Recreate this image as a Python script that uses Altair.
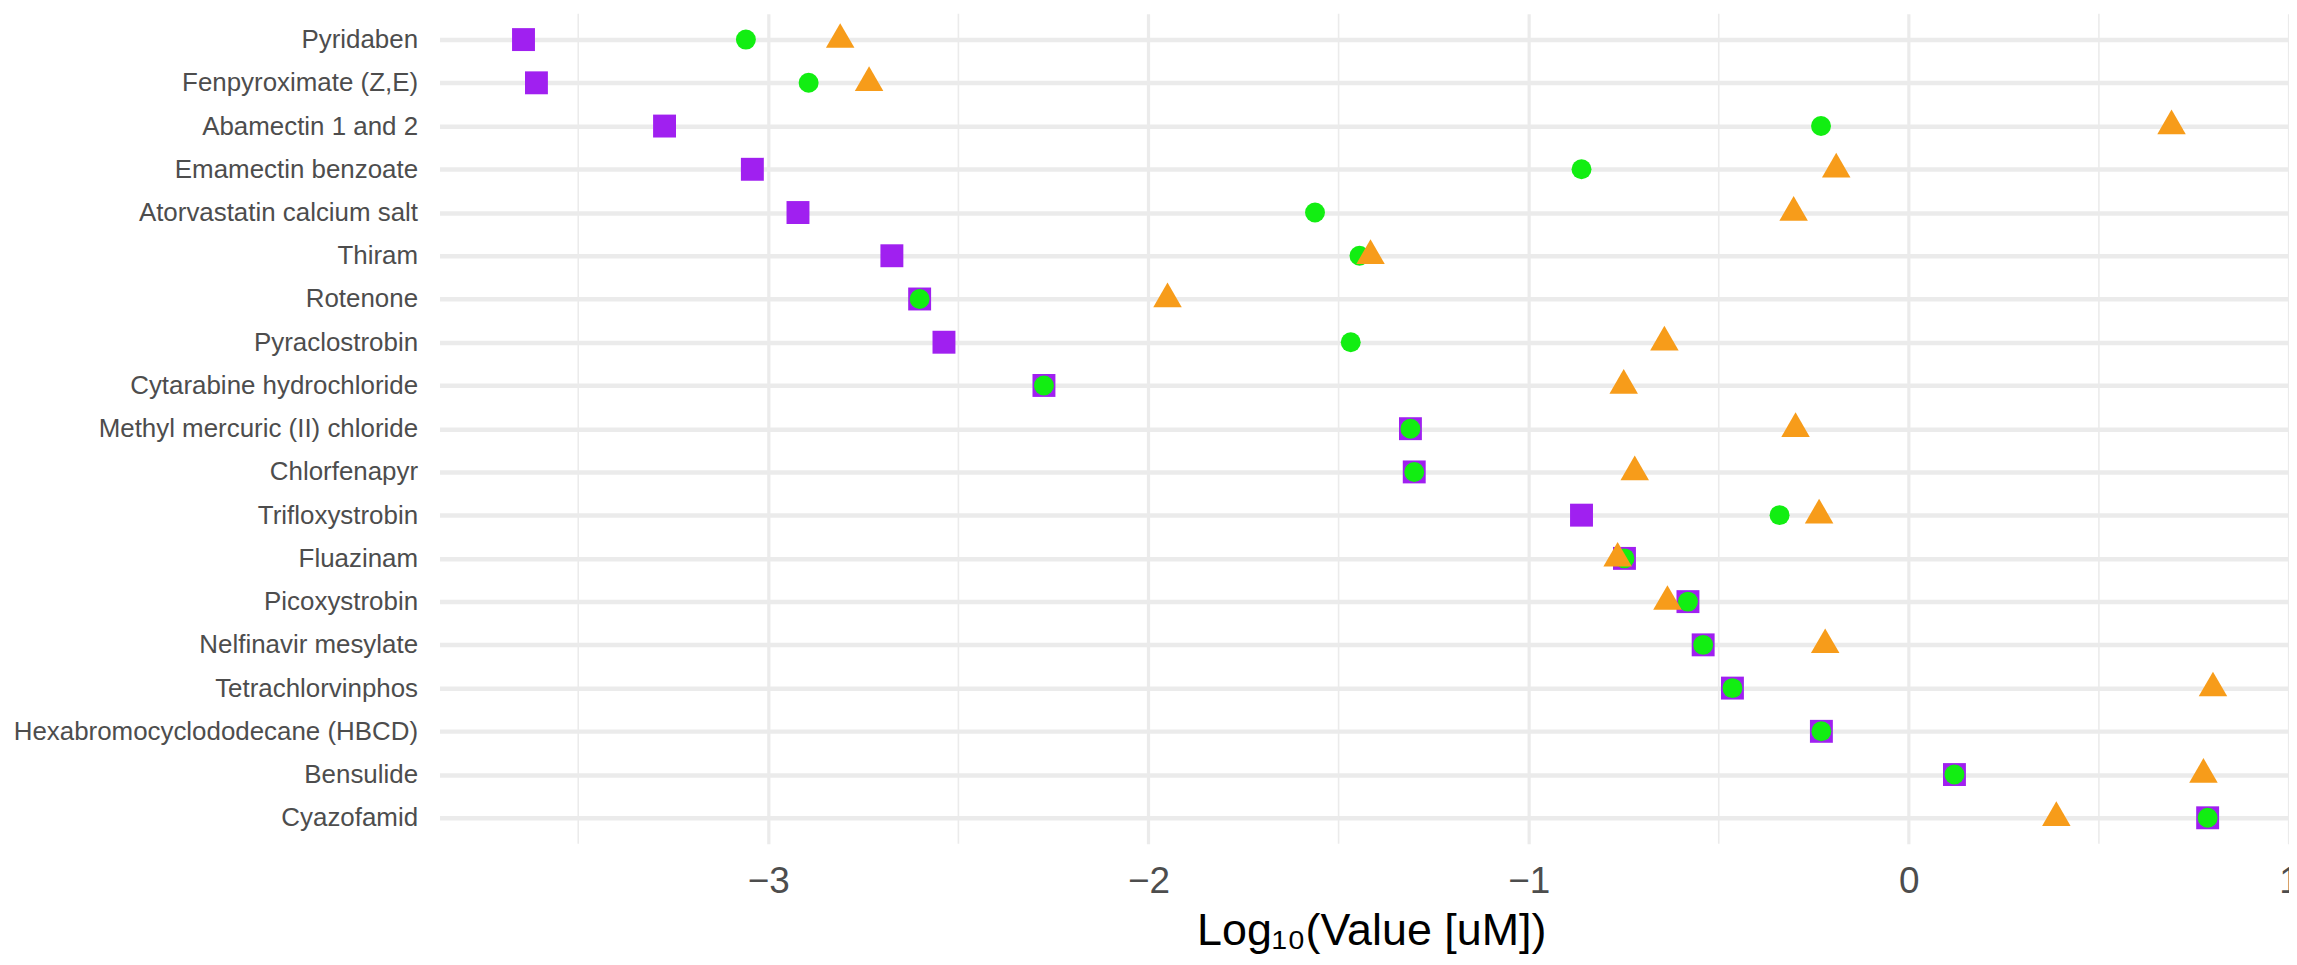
import altair as alt
import pandas as pd

compounds = [
    "Pyridaben", "Fenpyroximate (Z,E)", "Abamectin 1 and 2", "Emamectin benzoate",
    "Atorvastatin calcium salt", "Thiram", "Rotenone", "Pyraclostrobin",
    "Cytarabine hydrochloride", "Methyl mercuric (II) chloride", "Chlorfenapyr",
    "Trifloxystrobin", "Fluazinam", "Picoxystrobin", "Nelfinavir mesylate",
    "Tetrachlorvinphos", "Hexabromocyclododecane (HBCD)", "Bensulide", "Cyazofamid",
]

square_vals = [-3.644, -3.61, -3.273, -3.042, -2.922, -2.675, -2.602, -2.538, -2.275,
               -1.311, -1.301, -0.861, -0.748, -0.581, -0.541, -0.464, -0.23, 0.12, 0.786]
circle_vals = [-3.059, -2.894, -0.231, -0.861, -1.562, -1.445, -2.602, -1.468, -2.275,
               -1.311, -1.301, -0.34, -0.748, -0.581, -0.541, -0.464, -0.23, 0.12, 0.786]
triangle_vals = [-2.811, -2.735, 0.691, -0.191, -0.303, -1.416, -1.95, -0.643, -0.75,
                 -0.298, -0.721, -0.236, -0.766, -0.635, -0.22, 0.80, None, 0.775, 0.388]

x_ticks = [-3, -2, -1, 0, 1]
x_minor = [-3.5, -2.5, -1.5, -0.5, 0.5]

rows = []
for name, s, c, t in zip(compounds, square_vals, circle_vals, triangle_vals):
    rows.append({"compound": name, "series": "square", "value": s})
    rows.append({"compound": name, "series": "circle", "value": c})
    if t is not None:
        rows.append({"compound": name, "series": "triangle", "value": t})
df = pd.DataFrame(rows)
minor_df = pd.DataFrame({"v": x_minor})

FONT = "Liberation Sans"
GRID = "#EBEBEB"

xscale = alt.Scale(domain=[-3.865, 1.0], nice=False, zero=False)
xaxis = alt.Axis(
    values=x_ticks, format="d", title="Log\u2081\u2080(Value [uM])",
    titleFont=FONT, titleFontSize=45, titleFontWeight="normal", titleColor="#000000",
    titleX=935, titleY=101, titleBaseline="alphabetic", titleAlign="center",
    labelFont=FONT, labelFontSize=37, labelColor="#4D4D4D", labelPadding=20,
    labelFlush=False, labelOverlap=False,
    ticks=False, domain=False, grid=True, gridColor=GRID, gridWidth=3.2,
)
yscale = alt.Scale(type="point", padding=0.6)
yaxis = alt.Axis(
    title=None, labelFont=FONT, labelFontSize=26, labelColor="#4D4D4D",
    labelPadding=22, labelLimit=600, ticks=False, domain=False,
    grid=True, gridColor=GRID, gridWidth=4.5,
)

X = alt.X("value:Q", scale=xscale, axis=xaxis)
Y = alt.Y("compound:N", sort=compounds, scale=yscale, axis=yaxis)

minor = alt.Chart(minor_df).mark_rule(color=GRID, strokeWidth=1.6).encode(
    x=alt.X("v:Q", scale=xscale, axis=xaxis)
)

base = alt.Chart(df)
squares = base.transform_filter(alt.datum.series == "square").mark_point(
    shape="square", filled=True, size=529, color="#A020F0", opacity=1
).encode(x=X, y=Y)
circles = base.transform_filter(alt.datum.series == "circle").mark_point(
    shape="circle", filled=True, size=400, color="#12EE12", opacity=1
).encode(x=X, y=Y)
TRI = "M0,-1.1547L1,0.57735L-1,0.57735Z"
triangles = base.transform_filter(alt.datum.series == "triangle").mark_point(
    shape=TRI, filled=True, size=818, color="#F79C1A", opacity=1
).encode(x=X, y=Y)

chart = alt.layer(minor, squares, circles, triangles).properties(
    width=1856, height=833,
    autosize=alt.AutoSizeParams(type="none"),
    padding={"left": 433, "top": 4, "right": 0, "bottom": 112},
    background="white",
).configure_view(stroke=None)

chart.save("out.html", embed_options={"renderer": "svg", "actions": False})
